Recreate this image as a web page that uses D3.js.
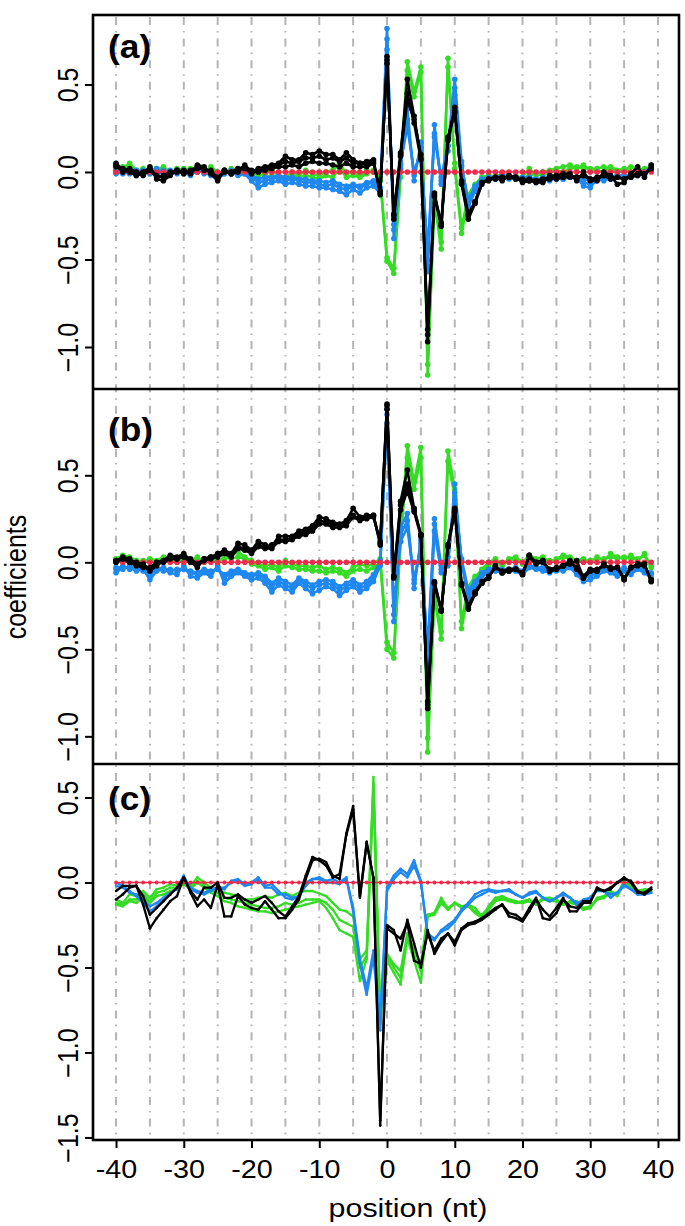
<!DOCTYPE html>
<html><head><meta charset="utf-8">
<script src="https://cdn.jsdelivr.net/npm/d3@7"></script>
<style>body{margin:0;background:#fff}svg{display:block}</style>
</head><body><svg id="chart" width="685" height="1226"></svg>
<script>
// ---------------- data ----------------
const positions = [-40,-39,-38,-37,-36,-35,-34,-33,-32,-31,-30,-29,-28,-27,-26,-25,-24,-23,-22,-21,
-20,-19,-18,-17,-16,-15,-14,-13,-12,-11,-10,-9,-8,-7,-6,-5,-4,-3,-2,-1,
0,1,2,3,4,5,6,7,8,9,10,11,12,13,14,15,16,17,18,19,20,21,22,23,24,25,26,27,28,29,30,31,32,33,34,35,36,37,38,39];
const gridPositions = [-40,-35,-30,-25,-20,-15,-10,-5,0,5,10,15,20,25,30,35,40];
const xTicks = [-40,-30,-20,-10,0,10,20,30,40];
const yTicksA = [0.5,0,-0.5,-1.0];
const yTicksB = [0.5,0,-0.5,-1.0];
const yTicksC = [0.5,0,-0.5,-1.0,-1.5];
const panelLabels = ["(a)","(b)","(c)"];
const xLabel = "position (nt)";
const yLabel = "coefficients";

const redLine = [0,0,0,0,0,0,0,0,0,0, 0,0,0,0,0,0,0,0,0,0, 0,0,0,0,0,0,0,0,0,0, 0,0,0,0,0,0,0,0,0,0,
0,0,0,0,0,0,0,0,0,0, 0,0,0,0,0,0,0,0,0,0, 0,0,0,0,0,0,0,0,0,0, 0,0,0,0,0,0,0,0,0,0];

// panel (a)
const aG1 = [0.03,0.02,0.05,0.01,0.00,0.02,0.01,0.03,0.00,0.01,
0.02,0.01,0.02,0.00,0.03,0.00,-0.01,0.02,0.01,0.02,
0.00,-0.02,-0.01,0.01,-0.02,-0.03,0.00,-0.02,0.01,-0.01,
-0.02,0.00,0.01,0.05,-0.01,0.00,-0.02,0.01,0.00,-0.05,
-0.51,-0.58,-0.03,0.63,0.46,0.60,-1.16,-0.17,-0.44,0.65,
0.02,-0.35,-0.16,-0.08,-0.03,-0.02,-0.03,-0.01,-0.02,-0.04,
-0.03,0.02,-0.02,0.00,0.01,0.02,0.03,0.04,0.02,0.04,
0.01,0.02,0.03,0.02,0.00,0.01,0.03,0.02,0.01,0.02];
const aG2 = [0.01,0.03,0.02,0.00,0.02,-0.01,0.02,0.01,-0.01,0.02,
0.00,0.02,0.00,0.01,0.01,-0.01,0.01,0.00,0.02,0.00,
-0.02,-0.04,-0.03,-0.02,-0.04,-0.04,-0.02,-0.03,-0.02,-0.03,
-0.04,-0.02,-0.03,0.02,-0.03,-0.02,-0.03,-0.01,0.01,-0.03,
-0.49,-0.55,0.00,0.58,0.43,0.57,-1.10,-0.15,-0.40,0.60,
0.05,-0.32,-0.13,-0.07,-0.03,-0.04,-0.02,-0.03,-0.03,-0.02,
-0.04,-0.02,-0.01,-0.02,0.00,0.01,0.00,0.02,0.03,0.02,
0.02,0.01,0.00,0.03,0.01,0.02,0.00,0.01,0.02,0.03];
const aB1 = [-0.01,0.00,0.01,-0.02,0.00,0.01,-0.01,0.00,0.01,-0.01,
0.00,-0.02,0.01,0.00,-0.02,-0.04,-0.01,0.00,-0.02,-0.01,
-0.05,-0.09,-0.07,-0.06,-0.05,-0.07,-0.06,-0.07,-0.08,-0.08,
-0.09,-0.09,-0.10,-0.11,-0.13,-0.10,-0.12,-0.09,-0.08,-0.12,
0.82,-0.38,0.02,0.36,-0.05,0.17,-0.57,0.27,-0.07,0.15,
0.53,0.06,-0.20,-0.11,-0.06,-0.03,-0.04,-0.02,-0.04,-0.03,
-0.05,-0.03,-0.06,-0.04,-0.05,-0.03,-0.04,-0.02,-0.03,-0.08,
-0.09,-0.04,-0.05,-0.03,-0.02,-0.04,-0.03,-0.01,-0.02,0.04];
const aB2 = [0.01,-0.01,0.00,0.01,-0.01,0.00,0.02,-0.01,0.00,0.01,
-0.01,0.00,0.02,-0.01,0.00,-0.02,0.00,0.01,-0.01,0.00,
-0.03,-0.06,-0.05,-0.04,-0.03,-0.05,-0.04,-0.05,-0.06,-0.06,
-0.07,-0.08,-0.07,-0.09,-0.10,-0.08,-0.09,-0.07,-0.06,-0.10,
0.76,-0.33,0.04,0.30,-0.02,0.14,-0.50,0.22,-0.05,0.12,
0.48,0.04,-0.18,-0.09,-0.05,-0.04,-0.03,-0.03,-0.02,-0.04,
-0.04,-0.04,-0.05,-0.03,-0.04,-0.04,-0.03,-0.03,-0.04,-0.06,
-0.07,-0.05,-0.04,-0.04,-0.03,-0.03,-0.02,-0.02,-0.01,0.02];
const aB3 = [0.00,0.01,-0.01,0.00,0.01,-0.01,0.00,0.01,-0.01,0.00,
0.01,-0.01,0.00,0.01,-0.01,-0.01,0.01,-0.01,0.00,-0.01,
-0.02,-0.04,-0.03,-0.03,-0.02,-0.03,-0.03,-0.04,-0.04,-0.05,
-0.05,-0.06,-0.05,-0.07,-0.08,-0.07,-0.08,-0.06,-0.05,-0.09,
0.70,-0.30,0.05,0.26,0.00,0.12,-0.45,0.20,-0.03,0.15,
0.44,0.03,-0.16,-0.08,-0.04,-0.03,-0.03,-0.02,-0.03,-0.03,
-0.03,-0.03,-0.04,-0.04,-0.03,-0.03,-0.04,-0.03,-0.03,-0.04,
-0.05,-0.04,-0.03,-0.03,-0.02,-0.02,-0.02,-0.01,0.00,0.03];
const aK1 = [0.05,0.01,0.00,-0.02,-0.01,0.03,-0.04,-0.05,-0.02,0.01,
0.00,-0.01,0.04,0.03,-0.01,-0.05,0.01,-0.01,0.01,0.04,
0.00,0.02,0.03,0.04,0.05,0.09,0.07,0.07,0.11,0.10,
0.12,0.10,0.10,0.07,0.11,0.07,0.05,0.06,0.07,-0.13,
0.66,-0.27,0.09,0.53,0.32,0.08,-0.97,-0.13,-0.31,0.19,
0.37,-0.07,-0.27,-0.18,-0.07,-0.04,-0.03,-0.05,-0.02,-0.03,
-0.06,-0.05,-0.06,-0.06,-0.02,-0.02,-0.01,-0.01,-0.05,0.00,
-0.05,-0.05,0.00,-0.02,-0.07,-0.06,-0.01,0.03,-0.03,0.04];
const aK2 = [0.03,0.02,0.01,-0.01,0.00,0.02,-0.02,-0.03,-0.01,0.00,
0.01,0.00,0.02,0.02,0.00,-0.03,0.00,0.00,0.02,0.02,
-0.01,0.01,0.02,0.03,0.04,0.06,0.05,0.06,0.08,0.08,
0.09,0.07,0.08,0.06,0.08,0.05,0.05,0.04,0.06,-0.12,
0.64,-0.25,0.10,0.41,0.30,0.10,-0.93,-0.12,-0.30,0.20,
0.35,-0.06,-0.25,-0.17,-0.06,-0.04,-0.04,-0.03,-0.03,-0.04,
-0.04,-0.05,-0.05,-0.04,-0.03,-0.04,-0.03,-0.02,-0.03,-0.02,
-0.04,-0.03,-0.02,-0.04,-0.03,-0.04,-0.02,-0.01,-0.01,0.02];
const aK3 = [0.04,0.00,0.02,0.00,-0.02,0.01,-0.03,-0.02,0.00,0.01,
-0.01,0.01,0.03,0.01,0.01,-0.04,0.01,-0.01,0.00,0.03,
0.01,0.00,0.01,0.02,0.03,0.03,0.04,0.03,0.05,0.06,
0.05,0.05,0.04,0.03,0.05,0.03,0.03,0.03,0.05,-0.11,
0.62,-0.24,0.11,0.45,0.28,0.07,-0.90,-0.14,-0.29,0.18,
0.34,-0.05,-0.24,-0.17,-0.06,-0.05,-0.03,-0.03,-0.03,-0.03,
-0.05,-0.04,-0.05,-0.05,-0.04,-0.03,-0.03,-0.03,-0.03,-0.02,
-0.04,-0.04,-0.02,-0.03,-0.03,-0.04,-0.03,-0.02,-0.01,0.02];

// panel (b)
const bG1 = [0.02,0.04,0.03,0.01,0.00,0.02,0.01,0.03,0.02,0.00,
0.02,0.01,0.03,0.00,0.02,0.01,0.02,0.04,0.06,0.03,
0.01,-0.01,-0.02,-0.01,-0.03,0.01,-0.01,-0.02,-0.02,-0.03,
-0.02,-0.04,-0.03,-0.04,-0.06,-0.03,-0.01,-0.02,-0.01,0.02,
-0.46,-0.52,0.15,0.67,0.46,0.66,-1.09,-0.20,-0.44,0.64,
0.42,-0.38,-0.17,-0.09,-0.04,0.00,0.02,-0.01,0.02,0.03,
0.00,0.04,0.02,0.03,0.00,0.02,0.04,0.03,0.01,0.02,
0.00,0.03,0.01,0.05,0.03,0.02,0.04,0.01,0.05,-0.03];
const bG2 = [0.01,0.03,0.02,0.00,0.01,0.01,0.00,0.02,0.01,0.01,
0.01,0.00,0.02,0.01,0.01,0.00,0.03,0.02,0.03,0.02,
-0.01,-0.02,-0.04,-0.03,-0.05,-0.02,-0.03,-0.04,-0.04,-0.05,
-0.05,-0.06,-0.05,-0.06,-0.08,-0.05,-0.04,-0.05,-0.03,0.00,
-0.50,-0.55,0.12,0.60,0.42,0.60,-1.01,-0.17,-0.40,0.58,
0.38,-0.34,-0.14,-0.08,-0.05,-0.02,0.01,-0.02,0.01,0.02,
-0.01,0.03,0.01,0.02,0.01,0.01,0.03,0.02,0.00,0.01,
0.01,0.02,0.02,0.03,0.02,0.03,0.02,0.02,0.04,-0.02];
const bB1 = [-0.06,-0.03,-0.03,-0.05,-0.04,-0.10,-0.05,-0.04,-0.06,-0.07,
-0.02,-0.08,-0.09,-0.06,-0.08,-0.02,-0.12,-0.08,-0.06,-0.08,
-0.10,-0.09,-0.12,-0.17,-0.13,-0.15,-0.17,-0.12,-0.15,-0.18,
-0.16,-0.14,-0.15,-0.19,-0.16,-0.14,-0.17,-0.15,-0.11,-0.02,
0.88,-0.34,0.20,0.28,-0.15,0.13,-0.60,0.18,-0.06,-0.02,
0.45,0.00,-0.21,-0.14,-0.08,-0.06,-0.05,-0.06,-0.05,-0.05,
-0.07,-0.03,-0.04,-0.05,-0.06,-0.04,-0.05,-0.03,-0.07,-0.11,
-0.10,-0.08,-0.05,-0.06,-0.08,-0.05,-0.07,-0.04,-0.06,-0.09];
const bB2 = [-0.04,-0.02,-0.04,-0.03,-0.05,-0.07,-0.03,-0.05,-0.04,-0.05,
-0.03,-0.06,-0.07,-0.05,-0.06,-0.03,-0.09,-0.06,-0.05,-0.07,
-0.08,-0.07,-0.10,-0.14,-0.11,-0.13,-0.15,-0.10,-0.13,-0.15,
-0.13,-0.12,-0.13,-0.16,-0.14,-0.12,-0.15,-0.13,-0.09,-0.01,
0.85,-0.30,0.16,0.24,-0.12,0.11,-0.55,0.22,-0.04,0.00,
0.40,0.01,-0.18,-0.12,-0.07,-0.05,-0.04,-0.05,-0.04,-0.04,
-0.06,-0.02,-0.03,-0.04,-0.05,-0.05,-0.04,-0.02,-0.06,-0.09,
-0.08,-0.06,-0.04,-0.05,-0.06,-0.04,-0.06,-0.03,-0.05,-0.07];
const bB3 = [-0.03,-0.04,-0.02,-0.04,-0.03,-0.06,-0.04,-0.03,-0.05,-0.04,
-0.04,-0.05,-0.06,-0.04,-0.05,-0.04,-0.07,-0.05,-0.04,-0.06,
-0.07,-0.06,-0.08,-0.12,-0.09,-0.11,-0.13,-0.09,-0.11,-0.13,
-0.11,-0.10,-0.11,-0.14,-0.12,-0.10,-0.13,-0.11,-0.07,0.01,
0.80,-0.25,0.12,0.20,-0.10,0.09,-0.50,0.25,-0.02,0.03,
0.36,0.02,-0.16,-0.11,-0.06,-0.04,-0.03,-0.04,-0.04,-0.03,
-0.05,-0.02,-0.03,-0.03,-0.04,-0.04,-0.03,-0.02,-0.05,-0.08,
-0.07,-0.05,-0.04,-0.04,-0.05,-0.03,-0.05,-0.03,-0.04,-0.06];
const bK1 = [0.01,0.03,0.02,-0.01,-0.02,-0.05,-0.02,0.01,0.04,0.03,
0.05,0.01,-0.03,0.02,0.03,0.05,0.07,0.05,0.11,0.10,
0.07,0.12,0.10,0.09,0.15,0.15,0.15,0.18,0.19,0.21,
0.26,0.25,0.23,0.22,0.24,0.31,0.26,0.27,0.27,0.10,
0.91,-0.08,0.35,0.53,0.31,0.16,-0.84,-0.12,-0.28,0.10,
0.31,-0.13,-0.27,-0.18,-0.12,-0.09,-0.02,-0.06,-0.05,-0.04,
-0.07,0.04,0.00,0.01,-0.05,-0.04,-0.02,-0.01,0.01,-0.09,
-0.05,-0.05,-0.01,-0.04,-0.03,-0.10,-0.03,-0.01,-0.01,-0.11];
const bK2 = [0.00,0.02,0.01,0.00,-0.01,-0.04,-0.01,0.00,0.02,0.02,
0.03,0.00,-0.02,0.01,0.02,0.03,0.05,0.03,0.08,0.07,
0.05,0.09,0.08,0.08,0.12,0.12,0.13,0.15,0.16,0.18,
0.22,0.22,0.20,0.20,0.21,0.26,0.24,0.25,0.26,0.12,
0.88,-0.09,0.30,0.41,0.29,0.15,-0.80,-0.11,-0.27,0.09,
0.29,-0.12,-0.25,-0.17,-0.11,-0.08,-0.03,-0.05,-0.04,-0.04,
-0.06,0.03,-0.01,0.00,-0.04,-0.03,-0.02,0.00,-0.03,-0.08,
-0.04,-0.04,-0.02,-0.03,-0.03,-0.09,-0.03,-0.02,-0.02,-0.10];
const bK3 = [0.01,0.02,0.00,-0.02,-0.03,-0.03,0.00,0.01,0.03,0.02,
0.04,0.02,-0.01,0.02,0.03,0.04,0.06,0.04,0.09,0.08,
0.06,0.10,0.09,0.10,0.13,0.13,0.14,0.16,0.18,0.19,
0.24,0.23,0.22,0.21,0.23,0.27,0.25,0.26,0.27,0.11,
0.90,-0.08,0.33,0.45,0.30,0.16,-0.82,-0.12,-0.28,0.10,
0.30,-0.13,-0.26,-0.18,-0.12,-0.09,-0.02,-0.06,-0.05,-0.04,
-0.07,0.04,0.00,0.01,-0.05,-0.04,-0.02,0.01,-0.04,-0.09,
-0.05,-0.05,-0.01,-0.04,-0.03,-0.10,-0.03,-0.01,-0.01,-0.11];

// panel (c)
const cG1 = [-0.10,-0.12,-0.07,-0.08,-0.05,-0.09,-0.04,-0.03,-0.01,-0.02,
0.02,-0.02,0.03,0.00,-0.03,-0.04,-0.06,-0.07,-0.08,-0.10,
-0.10,-0.09,-0.08,-0.09,-0.07,-0.06,-0.08,-0.06,-0.05,-0.05,
-0.065,-0.08,-0.12,-0.16,-0.17,-0.20,-0.45,-0.40,0.62,-0.83,
-0.42,-0.48,-0.52,-0.30,-0.40,-0.48,-0.19,-0.18,-0.09,-0.16,
-0.12,-0.14,-0.13,-0.15,-0.20,-0.14,-0.09,-0.08,-0.10,-0.12,
-0.11,-0.10,-0.13,-0.09,-0.09,-0.10,-0.13,-0.11,-0.11,-0.16,
-0.15,-0.09,-0.08,-0.05,-0.07,0.01,-0.02,-0.05,-0.04,-0.04];
const cG2 = [-0.12,-0.13,-0.10,-0.10,-0.07,-0.11,-0.06,-0.05,-0.03,-0.03,
0.00,-0.03,0.01,-0.02,-0.05,-0.06,-0.09,-0.10,-0.11,-0.12,
-0.13,-0.14,-0.15,-0.15,-0.14,-0.12,-0.13,-0.12,-0.10,-0.10,
-0.10,-0.12,-0.16,-0.22,-0.24,-0.26,-0.50,-0.43,0.58,-0.80,
-0.44,-0.50,-0.56,-0.31,-0.43,-0.52,-0.19,-0.18,-0.10,-0.15,
-0.12,-0.14,-0.14,-0.17,-0.19,-0.15,-0.10,-0.09,-0.10,-0.11,
-0.12,-0.11,-0.12,-0.10,-0.10,-0.11,-0.12,-0.12,-0.12,-0.15,
-0.14,-0.10,-0.09,-0.06,-0.07,0.00,-0.03,-0.05,-0.05,-0.04];
const cG3 = [-0.13,-0.14,-0.11,-0.12,-0.09,-0.12,-0.08,-0.07,-0.05,-0.04,
-0.01,-0.04,0.00,-0.03,-0.06,-0.08,-0.11,-0.12,-0.14,-0.15,
-0.16,-0.17,-0.17,-0.18,-0.17,-0.16,-0.15,-0.14,-0.13,-0.12,
-0.11,-0.15,-0.21,-0.28,-0.30,-0.32,-0.58,-0.45,0.55,-0.78,
-0.46,-0.53,-0.60,-0.33,-0.46,-0.59,-0.20,-0.19,-0.12,-0.16,
-0.12,-0.15,-0.14,-0.18,-0.21,-0.16,-0.11,-0.10,-0.11,-0.12,
-0.12,-0.11,-0.13,-0.10,-0.11,-0.11,-0.13,-0.12,-0.13,-0.16,
-0.15,-0.10,-0.09,-0.06,-0.08,-0.01,-0.03,-0.06,-0.05,-0.05];
const cB1 = [0.00,-0.02,-0.05,-0.08,-0.12,-0.17,-0.14,-0.10,-0.07,-0.03,
0.04,-0.04,-0.06,-0.07,-0.05,-0.03,-0.04,0.01,0.02,-0.01,
0.00,0.03,-0.02,-0.01,-0.05,-0.09,-0.10,-0.08,0.00,0.02,
0.02,0.00,0.00,-0.01,0.02,-0.17,-0.48,-0.66,-0.44,-0.87,
-0.03,0.04,0.08,0.05,0.13,0.01,-0.32,-0.34,-0.28,-0.25,
-0.22,-0.16,-0.12,-0.07,-0.05,-0.04,-0.05,-0.05,-0.04,-0.07,
-0.09,-0.06,-0.05,-0.09,-0.11,-0.09,-0.06,-0.09,-0.13,-0.10,
-0.09,-0.04,-0.05,-0.09,-0.06,-0.01,-0.04,-0.07,-0.07,-0.06];
const cB2 = [-0.02,-0.03,-0.06,-0.07,-0.10,-0.14,-0.12,-0.09,-0.06,-0.04,
0.03,-0.03,-0.05,-0.06,-0.04,-0.03,-0.03,0.00,0.01,-0.02,
-0.01,0.02,-0.03,-0.03,-0.07,-0.07,-0.09,-0.08,-0.02,0.02,
0.03,0.01,0.02,0.00,0.03,-0.15,-0.45,-0.62,-0.40,-0.80,
-0.05,0.02,0.06,0.03,0.10,0.00,-0.30,-0.33,-0.29,-0.27,
-0.23,-0.17,-0.13,-0.09,-0.07,-0.05,-0.06,-0.05,-0.05,-0.07,
-0.09,-0.07,-0.06,-0.09,-0.11,-0.09,-0.07,-0.09,-0.12,-0.11,
-0.09,-0.05,-0.05,-0.07,-0.06,-0.02,-0.04,-0.07,-0.07,-0.06];
const cK1 = [-0.10,-0.07,-0.03,-0.02,-0.13,-0.27,-0.21,-0.16,-0.11,-0.08,
0.03,-0.06,-0.14,-0.10,-0.15,-0.01,-0.20,-0.20,-0.08,-0.13,
-0.15,-0.16,-0.11,-0.16,-0.21,-0.21,-0.16,-0.10,0.02,0.13,
0.14,0.12,0.04,0.02,0.29,0.45,-0.09,0.23,0.03,-1.43,
-0.25,-0.28,-0.40,-0.22,-0.36,-0.50,-0.28,-0.42,-0.35,-0.30,
-0.37,-0.28,-0.25,-0.24,-0.22,-0.19,-0.16,-0.13,-0.20,-0.21,
-0.23,-0.17,-0.10,-0.16,-0.20,-0.15,-0.09,-0.17,-0.17,-0.12,
-0.12,-0.03,-0.05,-0.04,0.00,0.02,0.01,-0.05,-0.07,-0.04];
const cK2 = [-0.05,-0.02,-0.02,-0.02,-0.08,-0.19,-0.15,-0.11,-0.07,-0.03,
0.03,-0.05,-0.10,-0.03,-0.03,0.00,-0.09,-0.09,-0.07,-0.10,
-0.12,-0.10,-0.08,-0.12,-0.17,-0.20,-0.14,-0.08,0.04,0.15,
0.13,0.10,0.03,0.05,0.28,0.43,-0.08,0.24,0.02,-1.40,
-0.27,-0.30,-0.33,-0.24,-0.46,-0.48,-0.30,-0.40,-0.33,-0.30,
-0.35,-0.27,-0.24,-0.23,-0.21,-0.18,-0.15,-0.13,-0.18,-0.19,
-0.22,-0.15,-0.09,-0.21,-0.22,-0.18,-0.10,-0.14,-0.15,-0.11,
-0.11,-0.04,-0.05,-0.03,0.00,0.03,0.00,-0.06,-0.06,-0.03];

// ---------------- drawing ----------------
const COL = {green:"#35dc25", blue:"#1e88f0", red:"#ee2a4a", black:"#000000"};
const FONT = "'Liberation Sans', Arial, Helvetica, sans-serif";
const STRETCH = 1.15;
const L = 93, R = 679, T = 15, B = 1140;
const svg = d3.select("#chart");
svg.append("rect").attr("width",685).attr("height",1226).attr("fill","#fff");

const x = d3.scaleLinear().domain([-43.4, 43.1]).range([L, R]);

// vertical grid lines through all panels
svg.append("g").selectAll("line").data(gridPositions).join("line")
  .attr("x1", d => x(d)).attr("x2", d => x(d))
  .attr("y1", T).attr("y2", B)
  .attr("stroke", "#b5b5b5").attr("stroke-width", 2)
  .attr("stroke-dasharray", "8,6,1.6,6").attr("stroke-dashoffset", -2);

const panels = [
  {label: panelLabels[0], top: 15,  bottom: 389,  dom: [-1.24, 0.897], ticks: yTicksA,
   green: [aG1, aG2], blue: [aB1, aB2, aB3], black: [aK1, aK2, aK3], lw: 2.6, r: 2.8, rr: 2.8, labelY: 58},
  {label: panelLabels[1], top: 389, bottom: 764,  dom: [-1.159, 0.996], ticks: yTicksB,
   green: [bG1, bG2], blue: [bB1, bB2, bB3], black: [bK1, bK2, bK3], lw: 2.6, r: 2.8, rr: 2.8, labelY: 441},
  {label: panelLabels[2], top: 764, bottom: 1140, dom: [-1.515, 0.697], ticks: yTicksC,
   green: [cG1, cG2, cG3], blue: [cB1, cB2], black: [cK1, cK2], lw: 2.3, r: 1.3, rr: 1.9, labelY: 810}
];

panels.forEach((p, i) => {
  const y = d3.scaleLinear().domain(p.dom).range([p.bottom, p.top]);
  const clipId = "clip" + i;
  svg.append("clipPath").attr("id", clipId).append("rect")
    .attr("x", L).attr("y", p.top).attr("width", R - L).attr("height", p.bottom - p.top);
  const g = svg.append("g").attr("clip-path", `url(#${clipId})`);
  const line = d3.line().x((d, j) => x(positions[j])).y(d => y(d));

  const series = [];
  p.green.forEach(v => series.push({v, c: COL.green}));
  p.blue.forEach(v => series.push({v, c: COL.blue}));
  series.push({v: redLine, c: COL.red, red: true});
  p.black.forEach(v => series.push({v, c: COL.black}));

  series.forEach(s => {
    g.append("path").attr("d", line(s.v)).attr("fill", "none")
      .attr("stroke", s.c).attr("stroke-width", s.red ? 1.5 : p.lw)
      .attr("stroke-linejoin", "round");
    g.append("g").selectAll("circle").data(s.v).join("circle")
      .attr("cx", (d, j) => x(positions[j])).attr("cy", d => y(d))
      .attr("r", s.red ? p.rr : p.r).attr("fill", s.c);
  });

  // left axis
  const ax = svg.append("g").attr("transform", `translate(${L},0)`)
    .call(d3.axisLeft(y).tickValues(p.ticks).tickSize(8).tickFormat(d3.format(".1f")));
  ax.select(".domain").remove();
  ax.selectAll(".tick line").attr("stroke", "#000").attr("stroke-width", 2);
  ax.selectAll(".tick text")
    .attr("transform", `scale(${STRETCH},1) rotate(-90)`)
    .attr("x", 0).attr("y", -13).attr("dy", 0)
    .attr("text-anchor", "middle")
    .attr("font-family", FONT).attr("font-size", 25).attr("fill", "#000");

  // panel label
  svg.append("text").attr("transform", `translate(108,${p.labelY}) scale(1.07,1)`)
    .attr("font-family", FONT).attr("font-size", 33).attr("font-weight", "bold")
    .text(p.label);
});

// bottom axis
const bx = svg.append("g").attr("transform", `translate(0,${B})`)
  .call(d3.axisBottom(x).tickValues(xTicks).tickSize(8).tickFormat(d => String(d)));
bx.select(".domain").remove();
bx.selectAll(".tick line").attr("stroke", "#000").attr("stroke-width", 2);
bx.selectAll(".tick text").attr("y", 38).attr("dy", 0)
  .attr("transform", `scale(${STRETCH},1)`)
  .attr("font-family", FONT).attr("font-size", 25).attr("fill", "#000");

// frame and panel dividers
svg.append("rect").attr("x", L).attr("y", T).attr("width", R - L).attr("height", B - T)
  .attr("fill", "none").attr("stroke", "#000").attr("stroke-width", 2.6);
[389, 764].forEach(yy => svg.append("line").attr("x1", L).attr("x2", R).attr("y1", yy).attr("y2", yy)
  .attr("stroke", "#000").attr("stroke-width", 2.6));

// axis titles
svg.append("text").attr("transform", `translate(408,1217) scale(1.17,1)`).attr("text-anchor", "middle")
  .attr("font-family", FONT).attr("font-size", 26).text(xLabel);
svg.append("text").attr("transform", `translate(26,577) scale(${STRETCH},1) rotate(-90)`).attr("text-anchor", "middle")
  .attr("font-family", FONT).attr("font-size", 25).text(yLabel);
</script></body></html>
